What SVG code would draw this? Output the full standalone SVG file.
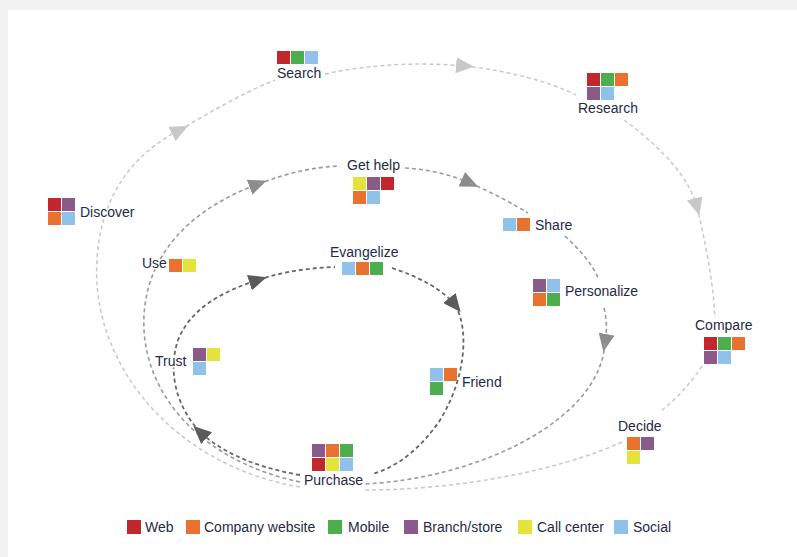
<svg xmlns="http://www.w3.org/2000/svg" width="797" height="557" viewBox="0 0 797 557">
<style>
.lbl{font-family:"Liberation Sans",Arial,sans-serif;font-size:14px;fill:#1f2a45;stroke:#fff;stroke-width:3px;paint-order:stroke;stroke-linejoin:round}
.leg{font-family:"Liberation Sans",Arial,sans-serif;font-size:14px;fill:#1f2a45}
.web{fill:#c1272d}.cw{fill:#e8722f}.mob{fill:#4cae4c}.br{fill:#8a5a88}.cc{fill:#e3e33c}.so{fill:#8fc1ea}
.o{fill:none;stroke:#c8c8c8;stroke-width:1.5;stroke-dasharray:4 3}
.m{fill:none;stroke:#9a9a9a;stroke-width:1.6;stroke-dasharray:4 3}
.i{fill:none;stroke:#666;stroke-width:1.8;stroke-dasharray:4 3}
</style>
<defs>
<marker id="aO" viewBox="0 0 18 16" refX="9" refY="8" markerWidth="18" markerHeight="16" markerUnits="userSpaceOnUse" orient="auto"><path d="M0,0 L18,8 L0,16 Z" fill="#c8c8c8"/></marker>
<marker id="aM" viewBox="0 0 18 16" refX="9" refY="8" markerWidth="18" markerHeight="16" markerUnits="userSpaceOnUse" orient="auto"><path d="M0,0 L18,8 L0,16 Z" fill="#8c8c8c"/></marker>
<marker id="aI" viewBox="0 0 18 16" refX="9" refY="8" markerWidth="18" markerHeight="16" markerUnits="userSpaceOnUse" orient="auto"><path d="M0,0 L18,8 L0,16 Z" fill="#5a5a5a"/></marker>
</defs>
<rect width="797" height="557" fill="#f2f2f2"/>
<rect x="8" y="10" width="789" height="547" fill="#fff"/>
<g id="connectors">
<path class="o" d="M300 487 C170 465 90 360 97 260 C100 200 130 155 180 130" marker-end="url(#aO)"/>
<path class="o" d="M180 130 C210 112 245 92 275 80"/>
<path class="o" d="M325 74 C370 64 420 62 465 66" marker-end="url(#aO)"/>
<path class="o" d="M465 66 C510 71 550 82 576 95"/>
<path class="o" d="M624 120 C665 150 690 180 697 207" marker-end="url(#aO)"/>
<path class="o" d="M697 207 C705 240 713 280 715 318"/>
<path class="o" d="M702 366 Q685 392 662 410"/>
<path class="o" d="M622 442 C560 470 460 490 365 490"/>
<path class="m" d="M300 482 C205 462 148 400 144 330 C141 270 175 215 258 184" marker-end="url(#aM)"/>
<path class="m" d="M258 184 C290 172 315 167 340 166"/>
<path class="m" d="M405 168 C425 169 450 174 470 183" marker-end="url(#aM)"/>
<path class="m" d="M470 183 C495 194 515 205 528 213"/>
<path class="m" d="M565 236 C580 250 593 265 598 278"/>
<path class="m" d="M604 308 C607 320 607 332 605 343" marker-end="url(#aM)"/>
<path class="m" d="M605 343 C600 420 480 478 365 484"/>
<path class="i" d="M392 268 C420 277 443 290 455 305" marker-end="url(#aI)"/>
<path class="i" d="M455 305 C470 330 465 380 440 420 C420 450 395 468 372 474"/>
<path class="i" d="M300 475 C260 468 225 455 200 432" marker-end="url(#aI)"/>
<path class="i" d="M200 432 C175 405 168 370 178 340 C190 310 220 292 258 280" marker-end="url(#aI)"/>
<path class="i" d="M258 280 C285 271 310 268 335 267"/>
</g>
<g id="search"><rect class="web" x="277" y="51" width="13" height="13"/><rect class="mob" x="291" y="51" width="13" height="13"/><rect class="so" x="305" y="51" width="13" height="13"/><text class="lbl" x="277" y="78">Search</text></g>
<g id="research"><rect class="web" x="587" y="73" width="13" height="13"/><rect class="mob" x="601" y="73" width="13" height="13"/><rect class="cw" x="615" y="73" width="13" height="13"/><rect class="br" x="587" y="87" width="13" height="13"/><rect class="so" x="601" y="87" width="13" height="13"/><text class="lbl" x="578" y="113">Research</text></g>
<g id="discover"><rect class="web" x="48" y="198" width="13" height="13"/><rect class="br" x="62" y="198" width="13" height="13"/><rect class="cw" x="48" y="212" width="13" height="13"/><rect class="so" x="62" y="212" width="13" height="13"/><text class="lbl" x="80" y="217">Discover</text></g>
<g id="gethelp"><text class="lbl" x="347" y="170">Get help</text><rect class="cc" x="353" y="177" width="13" height="13"/><rect class="br" x="367" y="177" width="13" height="13"/><rect class="web" x="381" y="177" width="13" height="13"/><rect class="cw" x="353" y="191" width="13" height="13"/><rect class="so" x="367" y="191" width="13" height="13"/></g>
<g id="use"><text class="lbl" x="142" y="268">Use</text><rect class="cw" x="169" y="259" width="13" height="13"/><rect class="cc" x="183" y="259" width="13" height="13"/></g>
<g id="evangelize"><text class="lbl" x="330" y="257">Evangelize</text><rect class="so" x="342" y="262" width="13" height="13"/><rect class="cw" x="356" y="262" width="13" height="13"/><rect class="mob" x="370" y="262" width="13" height="13"/></g>
<g id="share"><rect class="so" x="503" y="218" width="13" height="13"/><rect class="cw" x="517" y="218" width="13" height="13"/><text class="lbl" x="535" y="230">Share</text></g>
<g id="personalize"><rect class="br" x="533" y="279" width="13" height="13"/><rect class="so" x="547" y="279" width="13" height="13"/><rect class="cw" x="533" y="293" width="13" height="13"/><rect class="mob" x="547" y="293" width="13" height="13"/><text class="lbl" x="565" y="296">Personalize</text></g>
<g id="compare"><text class="lbl" x="695" y="330">Compare</text><rect class="web" x="704" y="337" width="13" height="13"/><rect class="mob" x="718" y="337" width="13" height="13"/><rect class="cw" x="732" y="337" width="13" height="13"/><rect class="br" x="704" y="351" width="13" height="13"/><rect class="so" x="718" y="351" width="13" height="13"/></g>
<g id="decide"><text class="lbl" x="618" y="431">Decide</text><rect class="cw" x="627" y="437" width="13" height="13"/><rect class="br" x="641" y="437" width="13" height="13"/><rect class="cc" x="627" y="451" width="13" height="13"/></g>
<g id="trust"><text class="lbl" x="155" y="366">Trust</text><rect class="br" x="193" y="348" width="13" height="13"/><rect class="cc" x="207" y="348" width="13" height="13"/><rect class="so" x="193" y="362" width="13" height="13"/></g>
<g id="friend"><rect class="so" x="430" y="368" width="13" height="13"/><rect class="cw" x="444" y="368" width="13" height="13"/><rect class="mob" x="430" y="382" width="13" height="13"/><text class="lbl" x="462" y="387">Friend</text></g>
<g id="purchase"><rect class="br" x="312" y="444" width="13" height="13"/><rect class="cw" x="326" y="444" width="13" height="13"/><rect class="mob" x="340" y="444" width="13" height="13"/><rect class="web" x="312" y="458" width="13" height="13"/><rect class="cc" x="326" y="458" width="13" height="13"/><rect class="so" x="340" y="458" width="13" height="13"/><text class="lbl" x="304" y="485">Purchase</text></g>
<g id="legend">
<rect class="web" x="127" y="520" width="14" height="14"/><text class="leg" x="145" y="532">Web</text>
<rect class="cw" x="186" y="520" width="14" height="14"/><text class="leg" x="204" y="532">Company website</text>
<rect class="mob" x="328" y="520" width="14" height="14"/><text class="leg" x="348" y="532">Mobile</text>
<rect class="br" x="404" y="520" width="14" height="14"/><text class="leg" x="423" y="532">Branch/store</text>
<rect class="cc" x="518" y="520" width="14" height="14"/><text class="leg" x="537" y="532">Call center</text>
<rect class="so" x="614" y="520" width="14" height="14"/><text class="leg" x="633" y="532">Social</text>
</g>
</svg>
